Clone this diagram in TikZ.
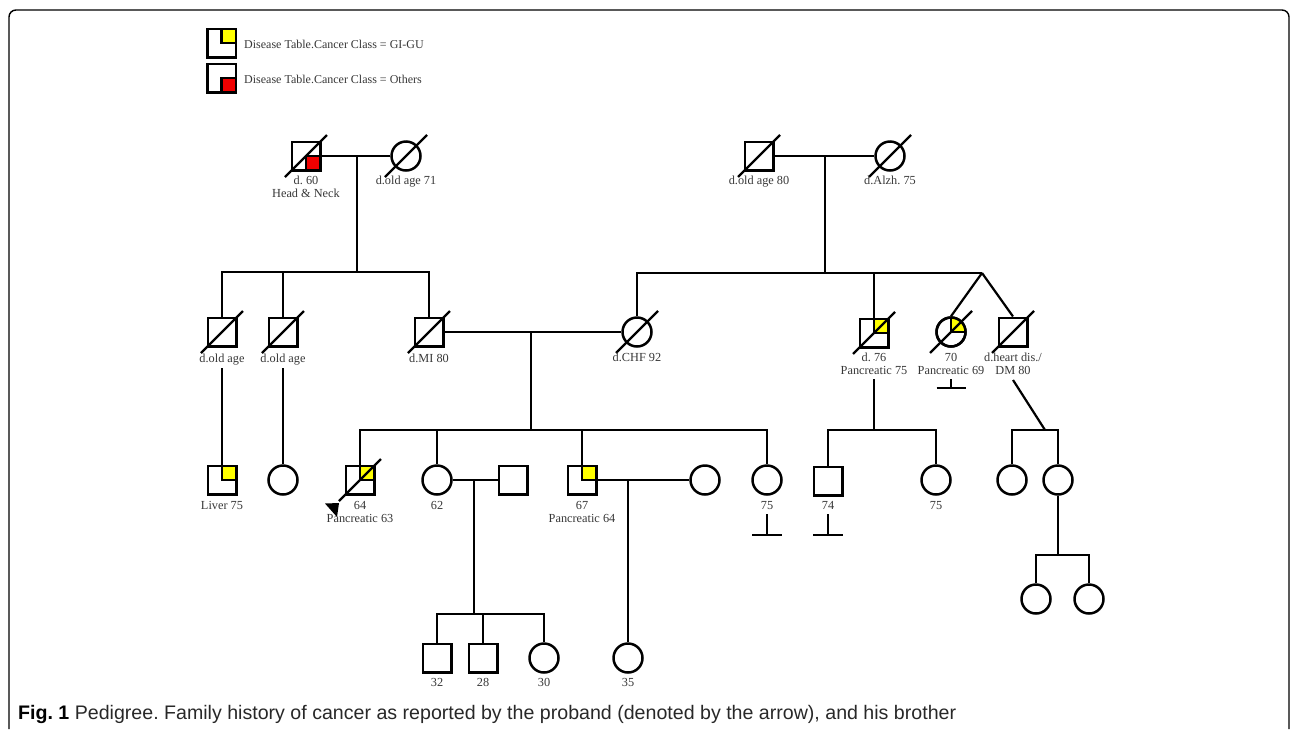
\documentclass[tikz,border=0pt]{standalone}
\usepackage{fontspec}
\setmainfont{Liberation Serif}
\newfontfamily\capfont{Liberation Sans}
\frenchspacing
\definecolor{gy}{RGB}{255,255,0}
\definecolor{rd}{RGB}{240,0,0}
\definecolor{lbl}{RGB}{55,55,55}
\definecolor{captxt}{RGB}{40,40,40}
\tikzset{
  male/.style={draw, rectangle, minimum size=28.5pt, inner sep=0pt, line width=2.5pt, fill=white},
  female/.style={draw, circle, minimum size=29pt, inner sep=0pt, line width=2.5pt, fill=white},
  lab/.style={font=\fontsize{12.3}{13}\selectfont, text=lbl, inner sep=0pt, text height=8pt, text depth=2pt},
  legtext/.style={font=\fontsize{12}{13}\selectfont, text=lbl, inner sep=0pt, anchor=west},
  conn/.style={line width=2.2pt},
  slashline/.style={line width=2.3pt},
  quad/.style={line width=2.2pt},
}
\newcommand\deadmark[1]{\draw[slashline] ([shift={(-21,21)}]#1.center) -- ([shift={(21,-21)}]#1.center);}
\newcommand\sqtr[2]{\draw[quad, fill=#2] (#1.center) rectangle ++(14.25,-14.25);}
\newcommand\sqbr[2]{\draw[quad, fill=#2] (#1.center) rectangle ++(14.25,14.25);}
\newcommand\cirtr[2]{\begin{scope}\clip (#1.center) rectangle ++(16,-16); \fill[#2] (#1.center) circle (14.5pt);\end{scope}
  \draw[quad] ([shift={(0,-14.5)}]#1.center) -- (#1.center) -- ([shift={(14.5,0)}]#1.center);
  \draw[line width=2.5pt] (#1.center) circle (14.5pt);}
\begin{document}
\begin{tikzpicture}[x=1pt,y=-1pt]
\useasboundingbox (0,0) rectangle (1292,729);
% frame
\draw[line width=1.4pt, rounded corners=7pt] (9,729) -- (9,10) -- (1289,10) -- (1289,729);

% legend
\node[male] (lg1) at (221.5,43) {};
\sqtr{lg1}{gy}
\node[legtext] (lt1) at (244,44) {Disease Table.Cancer Class = GI-GU};
\node[male] (lg2) at (221.5,78) {};
\sqbr{lg2}{rd}
\node[legtext] (lt2) at (244,79) {Disease Table.Cancer Class = Others};

% ---------- Generation I ----------
\node[male] (gfA) at (306,156) {};
\node[female] (gmA) at (406,156) {};
\node[male] (gfB) at (759,156) {};
\node[female] (gmB) at (890,156) {};
\sqbr{gfA}{rd}
\deadmark{gfA}\deadmark{gmA}\deadmark{gfB}\deadmark{gmB}
\node[lab] (l1) at (306,181) {d. 60};
\node[lab] (l2) at (306,194) {Head \& Neck};
\node[lab] (l3) at (406,181) {d.old age 71};
\node[lab] (l4) at (759,181) {d.old age 80};
\node[lab] (l5) at (890,181) {d.Alzh. 75};

\draw[conn] (gfA.east) -- (gmA.west);
\draw[conn] (gfB.east) -- (gmB.west);
\coordinate (mA) at (357,156);
\coordinate (sA) at (357,272);
\coordinate (mB) at (825,156);
\coordinate (sB) at (825,273);
\draw[conn] (mA) -- (sA);
\draw[conn] (mB) -- (sB);

% ---------- Generation II ----------
\node[male] (u1) at (222,332) {};
\node[male] (u2) at (283,332) {};
\node[male] (fa) at (429,332) {};
\node[female] (mo) at (637,332) {};
\node[male] (u3) at (874,333) {};
\node[female] (a1) at (951,332) {};
\node[male] (u4) at (1013,332) {};
\sqtr{u3}{gy}
\cirtr{a1}{gy}
\deadmark{u1}\deadmark{u2}\deadmark{fa}\deadmark{mo}\deadmark{u3}\deadmark{a1}\deadmark{u4}
\node[lab] (l6) at (222,359) {d.old age};
\node[lab] (l7) at (283,359) {d.old age};
\node[lab] (l8) at (429,359) {d.MI 80};
\node[lab] (l9) at (637,358) {d.CHF 92};
\node[lab] (l10) at (874,358) {d. 76};
\node[lab] (l11) at (874,371) {Pancreatic 75};
\node[lab] (l12) at (951,358) {70};
\node[lab] (l13) at (951,371) {Pancreatic 69};
\node[lab] (l14) at (1013,358) {d.heart dis./};
\node[lab] (l15) at (1013,371) {DM 80};

% sibship left
\draw[conn] (u1.north) -- (u1.north |- sA) -- (fa.north |- sA) -- (fa.north);
\draw[conn] (u2.north) -- (u2.north |- sA);
% sibship right
\coordinate (apex) at (982,273);
\draw[conn] (mo.north) -- (mo.north |- sB) -- (apex);
\draw[conn] (u3.north) -- (u3.north |- sB);
\draw[conn] (apex) -- (a1.north);
\draw[conn] (apex) -- (u4.north);
% no children for a1
\coordinate (nc1) at (951,379);
\coordinate (nc1b) at (951,388);
\draw[conn] (nc1) -- (nc1b);
\draw[conn] ([xshift=-14.5pt]nc1b) -- ([xshift=14.5pt]nc1b);

% marriage fa-mo
\draw[conn] (fa.east) -- (mo.west);
\coordinate (mC) at (531,332);
\coordinate (sC) at (531,430);
\draw[conn] (mC) -- (sC);

% ---------- Generation III ----------
\node[male] (c1) at (222,480) {};
\node[female] (c2) at (283,480) {};
\node[male] (pb) at (360,480) {};
\node[female] (s62) at (437,480) {};
\node[male] (sp1) at (513,480) {};
\node[male] (br) at (582,480) {};
\node[female] (sp2) at (705,480) {};
\node[female] (s75) at (767,480) {};
\node[male] (k74) at (828,481) {};
\node[female] (k75) at (936,480) {};
\node[female] (r1) at (1012,480) {};
\node[female] (r2) at (1058,480) {};
\sqtr{c1}{gy}
\sqtr{pb}{gy}
\sqtr{br}{gy}
\deadmark{pb}
\fill (325,503.5) -- (339,503) -- (337,517) -- cycle;

\node[lab] (l16) at (222,506) {Liver 75};
\node[lab] (l17) at (360,506) {64};
\node[lab] (l18) at (360,519) {Pancreatic 63};
\node[lab] (l19) at (437,506) {62};
\node[lab] (l20) at (582,506) {67};
\node[lab] (l21) at (582,519) {Pancreatic 64};
\node[lab] (l22) at (767,506) {75};
\node[lab] (l23) at (828,506) {74};
\node[lab] (l24) at (936,506) {75};

% lines from uncles
\coordinate (d1) at (222,368);
\coordinate (d2) at (283,368);
\draw[conn] (d1) -- (c1.north);
\draw[conn] (d2) -- (c2.north);
% sibship C
\draw[conn] (pb.north) -- (pb.north |- sC) -- (s75.north |- sC) -- (s75.north);
\draw[conn] (s62.north) -- (s62.north |- sC);
\draw[conn] (br.north) -- (br.north |- sC);
% sibship D (u3 children)
\coordinate (d3) at (874,379);
\coordinate (sD) at (874,430);
\draw[conn] (d3) -- (sD);
\draw[conn] (k74.north) -- (k74.north |- sD) -- (k75.north |- sD) -- (k75.north);
% sibship E (u4 children)
\coordinate (d4) at (1013,380);
\coordinate (sE) at (1045,430);
\draw[conn] (d4) -- (sE);
\draw[conn] (r1.north) -- (r1.north |- sE) -- (r2.north |- sE) -- (r2.north);
% no children
\coordinate (nc2) at (767,514);
\coordinate (nc2b) at (767,535);
\draw[conn] (nc2) -- (nc2b);
\draw[conn] ([xshift=-15pt]nc2b) -- ([xshift=15pt]nc2b);
\coordinate (nc3) at (828,514);
\coordinate (nc3b) at (828,535);
\draw[conn] (nc3) -- (nc3b);
\draw[conn] ([xshift=-15pt]nc3b) -- ([xshift=15pt]nc3b);

% marriages gen III
\draw[conn] (s62.east) -- (sp1.west);
\draw[conn] (br.east) -- (sp2.west);
\coordinate (mF) at (474,480);
\coordinate (sF) at (474,614);
\draw[conn] (mF) -- (sF);
\coordinate (mG) at (628,480);

% ---------- Generation IV ----------
\node[male] (g32) at (437,658) {};
\node[male] (g28) at (483,658) {};
\node[female] (g30) at (544,658) {};
\node[female] (g35) at (628,658) {};
\node[female] (q1) at (1036,599) {};
\node[female] (q2) at (1089,599) {};
\node[lab] (l25) at (437,683) {32};
\node[lab] (l26) at (483,683) {28};
\node[lab] (l27) at (544,683) {30};
\node[lab] (l28) at (628,683) {35};

\draw[conn] (g32.north) -- (g32.north |- sF) -- (g30.north |- sF) -- (g30.north);
\draw[conn] (g28.north) -- (g28.north |- sF);
\draw[conn] (mG) -- (g35.north);
\coordinate (sH) at (1058,555);
\draw[conn] (r2.south) -- (sH);
\draw[conn] (q1.north) -- (q1.north |- sH) -- (q2.north |- sH) -- (q2.north);

% caption
\node[anchor=base west, inner sep=0pt, text=captxt, font=\capfont\fontsize{19.6}{22}\selectfont] (cap) at (18,719)
  {\textcolor{black}{\textbf{Fig. 1}} Pedigree. Family history of cancer as reported by the proband (denoted by the arrow), and his brother};
\end{tikzpicture}
\end{document}
